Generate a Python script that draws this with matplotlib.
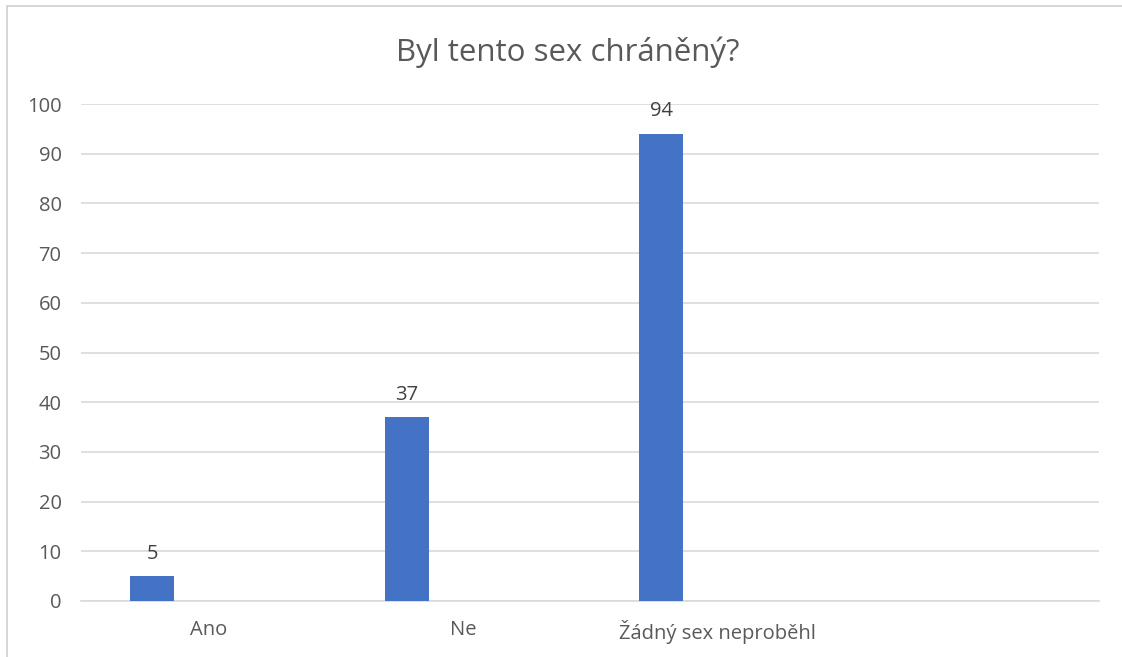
import numpy as np
import matplotlib
matplotlib.use('Agg')
import matplotlib.pyplot as plt
from matplotlib.patches import Rectangle

# chart data
categories = ['Ano', 'Ne', 'Žádný sex neproběhl', '']
values = [5, 37, 94, None]
title = 'Byl tento sex chráněný?'
yticks = list(range(0, 101, 10))

plt.rcParams['font.family'] = ['Open Sans', 'DejaVu Sans']
text_color = '#595959'
bar_color = '#4472C4'

fig = plt.figure(figsize=(11.22, 6.57), dpi=100)
ax = fig.add_axes([81 / 1122, 1 - 601 / 657, (1099 - 81) / 1122, (601 - 104) / 657])

x = np.arange(len(categories))
offset = -0.22
width = 0.173
for xi, v in zip(x, values):
    if v is None:
        continue
    ax.bar(xi + offset, v, width=width, color=bar_color, zorder=3)
    ax.text(xi + offset, v + 2.5, str(v), ha='center', va='bottom',
            fontsize=14.5, color='#404040')

ax.set_xlim(-0.5, len(categories) - 0.5)
ax.set_ylim(0, 100)
ax.set_yticks(yticks)
ax.set_xticks(x)
ax.set_xticklabels(categories)
ax.yaxis.grid(True, color='#D9D9D9', linewidth=1.2, zorder=0)
ax.tick_params(axis='both', length=0, labelsize=14.5, colors=text_color)
ax.tick_params(axis='y', pad=14)
ax.tick_params(axis='x', pad=14)
for side in ['top', 'right', 'left']:
    ax.spines[side].set_visible(False)
ax.spines['bottom'].set_color('#D9D9D9')
ax.spines['bottom'].set_linewidth(1.2)

fig.text(568 / 1122, 1 - 52 / 657, title, ha='center', va='center',
         fontsize=22.5, color=text_color)

# chart border (left and top visible)
fig.patches.append(Rectangle((7 / 1122, -0.5), 2, 0.5 + (1 - 6 / 657),
                             transform=fig.transFigure, fill=False,
                             edgecolor='#D0D0D0', linewidth=1.2))

fig.savefig('out.png', dpi=100)
